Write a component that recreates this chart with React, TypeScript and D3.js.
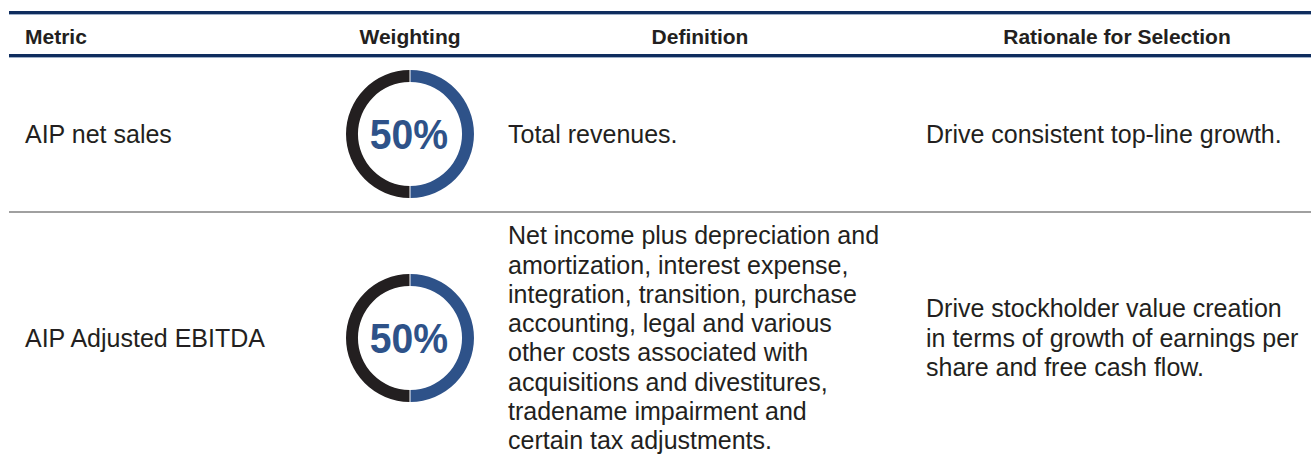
import React from 'react';
import * as d3 from 'd3';

const headers = ['Metric', 'Weighting', 'Definition', 'Rationale for Selection'];
const metrics = ['AIP net sales', 'AIP Adjusted EBITDA'];
const weightings = [50, 50];
const definitions = [
  ['Total revenues.'],
  [
    'Net income plus depreciation and',
    'amortization, interest expense,',
    'integration, transition, purchase',
    'accounting, legal and various',
    'other costs associated with',
    'acquisitions and divestitures,',
    'tradename impairment and',
    'certain tax adjustments.',
  ],
];
const rationales = [
  ['Drive consistent top-line growth.'],
  [
    'Drive stockholder value creation',
    'in terms of growth of earnings per',
    'share and free cash flow.',
  ],
];

const W = 1311;
const H = 459;
const FONT = '"Liberation Sans", Arial, Helvetica, sans-serif';
const NAVY = '#0f2d5e';
const BLUE = '#2e5289';
const DARK = '#231f20';

const rowCenters = [134, 338];
const lineH = 29.3;

const Donut: React.FC<{ cx: number; cy: number; value: number }> = ({ cx, cy, value }) => {
  const pie = d3.pie<number>().sort(null).padAngle(0.012);
  const arcs = pie([value, 100 - value]);
  const arc = d3.arc<d3.PieArcDatum<number>>().innerRadius(52).outerRadius(64);
  return (
    <g transform={`translate(${cx},${cy})`}>
      {arcs.map((a, i) => (
        <path key={i} d={arc(a) || ''} fill={i === 0 ? BLUE : DARK} />
      ))}
      <g transform="translate(-1,0) scale(0.91,1)">
        <text
          textAnchor="middle"
          dy="0.36em"
          fontSize={43}
          fontWeight="bold"
          fill={BLUE}
          fontFamily={FONT}
        >
          {value}%
        </text>
      </g>
    </g>
  );
};

const TextBlock: React.FC<{ x: number; cy: number; lines: string[] }> = ({ x, cy, lines }) => {
  const y0 = cy - ((lines.length - 1) * lineH) / 2;
  return (
    <text x={x} fontSize={25} fill={DARK} fontFamily={FONT}>
      {lines.map((l, i) => (
        <tspan key={i} x={x} y={y0 + i * lineH} dy="0.35em">
          {l}
        </tspan>
      ))}
    </text>
  );
};

export default function App() {
  const headerX = [25, 410, 700, 1117];
  const anchors = ['start', 'middle', 'middle', 'middle'];
  return (
    <svg
      width={W}
      height={H}
      style={{ position: 'absolute', left: 0, top: 0, background: '#fff' }}
    >
      <rect x={9} y={11} width={W - 9} height={3} fill={NAVY} />
      <rect x={9} y={14} width={W - 9} height={1} fill="#9fb0c8" />
      {headers.map((h, i) => (
        <text
          key={h}
          x={headerX[i]}
          y={37}
          dy="0.35em"
          textAnchor={anchors[i] as any}
          fontSize={21}
          fontWeight="bold"
          fill={DARK}
          fontFamily={FONT}
        >
          {h}
        </text>
      ))}
      <rect x={9} y={54} width={W - 9} height={3} fill={NAVY} />
      <rect x={9} y={57} width={W - 9} height={1} fill="#9fb0c8" />
      <rect x={9} y={211} width={W - 9} height={2} fill="#a0a0a0" />

      {metrics.map((m, i) => (
        <g key={m}>
          <TextBlock x={25} cy={rowCenters[i]} lines={[m]} />
          <Donut cx={410} cy={rowCenters[i]} value={weightings[i]} />
          <TextBlock x={508} cy={rowCenters[i]} lines={definitions[i]} />
          <TextBlock x={926} cy={rowCenters[i]} lines={rationales[i]} />
        </g>
      ))}
    </svg>
  );
}
